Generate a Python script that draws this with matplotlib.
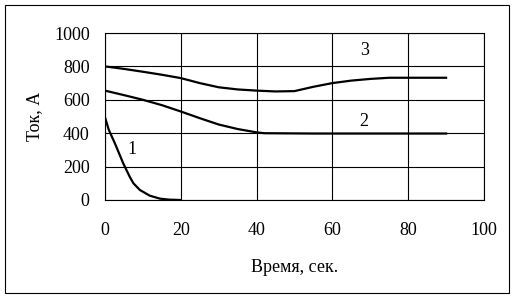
import matplotlib.pyplot as plt
from matplotlib.patches import Rectangle

# Данные кривых (время, сек / ток, А)
t1 = [0, 1, 2.6, 4.8, 6.5, 7.5, 9.2, 11.8, 14.5, 17, 20]
i1 = [495, 420, 340, 220, 140, 100, 60, 26, 8, 2, 0]

t2 = [0, 5, 10, 15, 20, 25, 30, 35, 40, 42, 55, 70, 90]
i2 = [655, 628, 600, 568, 530, 490, 452, 425, 405, 400, 398, 398, 398]

t3 = [0, 5, 10, 15, 20, 25, 30, 35, 40, 45, 50, 55, 60, 65, 70, 75, 80, 90]
i3 = [800, 785, 768, 750, 730, 700, 675, 662, 655, 650, 652, 678, 700, 715, 725, 732, 732, 732]

xticks = [0, 20, 40, 60, 80, 100]
yticks = [0, 200, 400, 600, 800, 1000]

plt.rcParams['font.family'] = ['Liberation Serif', 'DejaVu Serif']

fig = plt.figure(figsize=(5.16, 2.99), dpi=100)
ax = fig.add_axes([105 / 516, 1 - 200 / 299, 379 / 516, 167 / 299])

for t, i in [(t1, i1), (t2, i2), (t3, i3)]:
    ax.plot(t, i, color='black', lw=1.6)

ax.text(7, 300, '1', fontsize=13, ha='center', va='center')
ax.text(68.4, 469, '2', fontsize=13, ha='center', va='center')
ax.text(68.4, 898, '3', fontsize=13, ha='center', va='center')

ax.set_xlim(0, 100)
ax.set_ylim(0, 1000)
ax.set_xticks(xticks)
ax.set_yticks(yticks)
ax.tick_params(length=0, labelsize=13)
ax.tick_params(axis='x', pad=16)
ax.tick_params(axis='y', pad=11)
ax.grid(True, color='black', lw=0.8)
for s in ax.spines.values():
    s.set_linewidth(0.8)

ax.set_xlabel('Время, сек.', fontsize=13, labelpad=14)
ax.set_ylabel('Ток, А', fontsize=13, labelpad=8)

fig.patches.append(Rectangle((5 / 516, 1 - 293 / 299), 504 / 516, 288 / 299,
                             transform=fig.transFigure, fill=False,
                             edgecolor='black', lw=0.8))

fig.savefig('out.png', dpi=100)
